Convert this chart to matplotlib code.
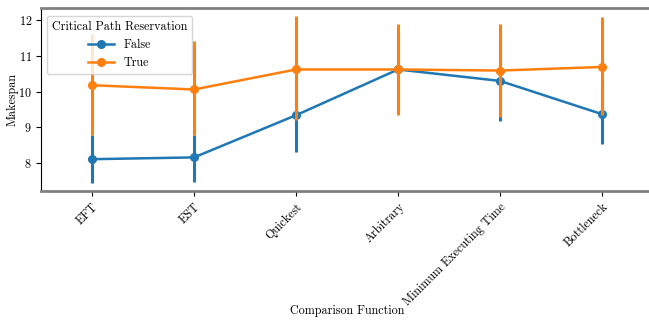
import numpy as np
import matplotlib.pyplot as plt

plt.rcParams['font.family'] = ['cmr10', 'DejaVu Serif']
plt.rcParams['axes.formatter.use_mathtext'] = True
plt.rcParams['font.size'] = 8.7

functions = ['EFT', 'EST', 'Quickest', 'Arbitrary', 'Minimum Executing Time', 'Bottleneck']

# Critical Path Reservation = False
false_mean = [8.11, 8.16, 9.34, 10.62, 10.30, 9.37]
false_low = [7.44, 7.48, 8.31, 9.40, 9.18, 8.53]
false_high = [8.78, 8.78, 10.40, 11.70, 11.50, 10.18]

# Critical Path Reservation = True
true_mean = [10.18, 10.06, 10.62, 10.62, 10.59, 10.69]
true_low = [8.78, 8.78, 9.20, 9.34, 9.29, 9.35]
true_high = [11.60, 11.41, 12.11, 11.89, 11.89, 12.08]

fig = plt.figure(figsize=(6.49, 3.2), dpi=100)
ax = fig.add_axes([41 / 649, 1 - 191 / 320, 612 / 649, 183 / 320])

x = np.arange(len(functions))
series = [
    ('False', false_mean, false_low, false_high, '#1f77b4'),
    ('True', true_mean, true_low, true_high, '#ff7f0e'),
]
for name, mean, low, high, color in series:
    ax.vlines(x, low, high, color=color, lw=2.2)
    ax.plot(x, mean, color=color, lw=1.8, marker='o', ms=5.5, label=name)

ax.set_xlim(-0.5, 5.5)
ax.set_ylim(7.22, 12.34)
ax.set_yticks([8, 9, 10, 11, 12])
ax.set_xticks(x)
ax.set_xticklabels(functions, rotation=45, ha='right', rotation_mode='anchor')
ax.tick_params(axis='y', pad=3)
ax.set_xlabel('Comparison Function')
ax.set_ylabel('Makespan')
ax.xaxis.set_label_coords(0.5, -0.625)
ax.yaxis.set_label_coords(-0.037, 0.5)

for side in ['top', 'bottom']:
    ax.spines[side].set_color('#808080')
    ax.spines[side].set_linewidth(2)
ax.spines['left'].set_linewidth(0.8)

ax.legend(title='Critical Path Reservation', loc='upper left',
          bbox_to_anchor=(0.0, 0.99), framealpha=0.8, handlelength=2.2)

fig.savefig('out.png', dpi=100)
